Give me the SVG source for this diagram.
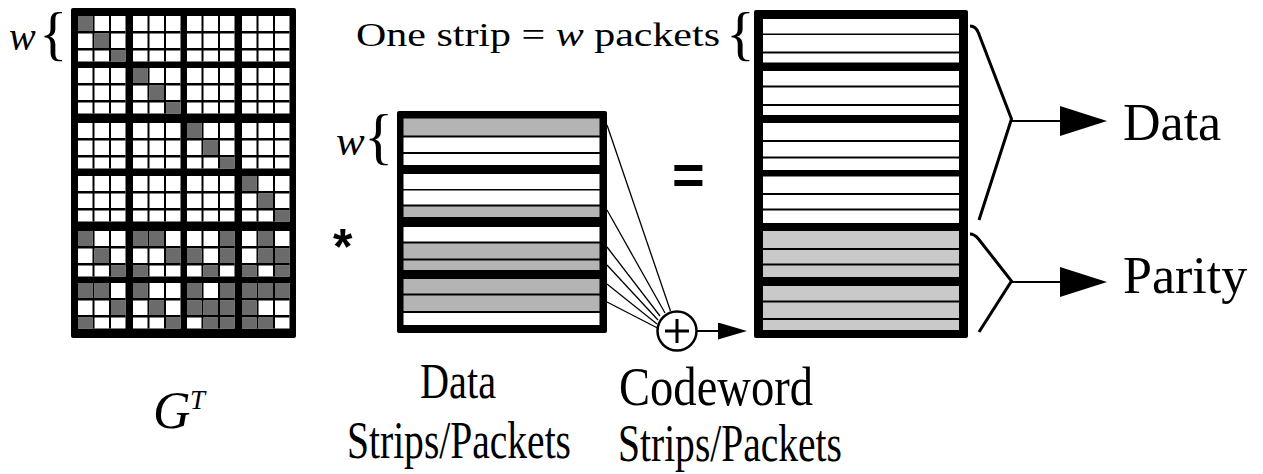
<svg xmlns="http://www.w3.org/2000/svg" xmlns:xlink="http://www.w3.org/1999/xlink" width="1263" height="474" viewBox="0 0 1263 474">
  <style>
    .serif { font-family: "Liberation Serif", "Times New Roman", serif; fill: #000; }
    .sans { font-family: "Liberation Sans", Arial, sans-serif; fill: #000; }
    .it { font-style: italic; }
    .cell { fill: #6b6b6b; }
    .w { fill: #fff; }
    .dg { fill: #b4b4b4; }
    .pg { fill: #c9c9c9; }
    .fan { stroke: #000; stroke-width: 1.3; fill: none; }
    .brace { stroke: #000; stroke-width: 3; fill: none; stroke-linejoin: miter; }
    .shaft { stroke: #000; stroke-width: 2; fill: none; }
  </style>
  <defs>
    <!-- one w x w sub-block of the generator matrix: white cells on a black grid -->
    <g id="blk">
      <rect width="47.5" height="45.5" fill="#fff"/>
      <rect x="14.5" width="2" height="45.5"/>
      <rect x="31" width="2" height="45.5"/>
      <rect y="15" width="47.5" height="2.5"/>
      <rect y="32" width="47.5" height="2.5"/>
    </g>
    <marker id="headLg" viewBox="0 0 47 30" refX="1" refY="15" markerWidth="47" markerHeight="30" markerUnits="userSpaceOnUse" orient="auto">
      <path d="M0,0 L47,15 L0,30 Z" fill="#000"/>
    </marker>
    <marker id="headSm" viewBox="0 0 29 17" refX="1" refY="8.5" markerWidth="29" markerHeight="17" markerUnits="userSpaceOnUse" orient="auto">
      <path d="M0,0 L29,8.5 L0,17 Z" fill="#000"/>
    </marker>
  </defs>

  <rect width="1263" height="474" fill="#fff"/>

  <!-- generator matrix G^T: 6 x 4 blocks of 3 x 3 bits -->
  <g id="gt-matrix">
    <rect x="71" y="8" width="225" height="330" rx="2" fill="#000"/>
    <use xlink:href="#blk" x="78" y="16"/><use xlink:href="#blk" x="133" y="16"/><use xlink:href="#blk" x="187" y="16"/><use xlink:href="#blk" x="242" y="16"/>
    <use xlink:href="#blk" x="78" y="68"/><use xlink:href="#blk" x="133" y="68"/><use xlink:href="#blk" x="187" y="68"/><use xlink:href="#blk" x="242" y="68"/>
    <use xlink:href="#blk" x="78" y="123"/><use xlink:href="#blk" x="133" y="123"/><use xlink:href="#blk" x="187" y="123"/><use xlink:href="#blk" x="242" y="123"/>
    <use xlink:href="#blk" x="78" y="176"/><use xlink:href="#blk" x="133" y="176"/><use xlink:href="#blk" x="187" y="176"/><use xlink:href="#blk" x="242" y="176"/>
    <use xlink:href="#blk" x="78" y="231"/><use xlink:href="#blk" x="133" y="231"/><use xlink:href="#blk" x="187" y="231"/><use xlink:href="#blk" x="242" y="231"/>
    <use xlink:href="#blk" x="78" y="283"/><use xlink:href="#blk" x="133" y="283"/><use xlink:href="#blk" x="187" y="283"/><use xlink:href="#blk" x="242" y="283"/>
    <!-- identity part -->
    <rect class="cell" x="78" y="16" width="14.5" height="15"/><rect class="cell" x="94.5" y="33.5" width="14.5" height="14.5"/><rect class="cell" x="111" y="50.5" width="14.5" height="11"/>
    <rect class="cell" x="133" y="68" width="14.5" height="15"/><rect class="cell" x="149.5" y="85.5" width="14.5" height="14.5"/><rect class="cell" x="166" y="102.5" width="14.5" height="11"/>
    <rect class="cell" x="187" y="123" width="14.5" height="15"/><rect class="cell" x="203.5" y="140.5" width="14.5" height="14.5"/><rect class="cell" x="220" y="157.5" width="14.5" height="11"/>
    <rect class="cell" x="242" y="176" width="14.5" height="15"/><rect class="cell" x="258.5" y="193.5" width="14.5" height="14.5"/><rect class="cell" x="275" y="210.5" width="14.5" height="11"/>
    <!-- coding part, first parity block row -->
    <rect class="cell" x="78" y="231" width="14.5" height="15"/><rect class="cell" x="94.5" y="248.5" width="14.5" height="14.5"/><rect class="cell" x="111" y="265.5" width="14.5" height="11"/>
    <rect class="cell" x="133" y="231" width="14.5" height="15"/><rect class="cell" x="149.5" y="231" width="14.5" height="15"/><rect class="cell" x="166" y="248.5" width="14.5" height="14.5"/><rect class="cell" x="133" y="265.5" width="14.5" height="11"/>
    <rect class="cell" x="220" y="231" width="14.5" height="15"/><rect class="cell" x="187" y="248.5" width="14.5" height="14.5"/><rect class="cell" x="220" y="248.5" width="14.5" height="14.5"/><rect class="cell" x="203.5" y="265.5" width="14.5" height="11"/>
    <rect class="cell" x="258.5" y="231" width="14.5" height="15"/><rect class="cell" x="258.5" y="248.5" width="14.5" height="14.5"/><rect class="cell" x="275" y="248.5" width="14.5" height="14.5"/><rect class="cell" x="242" y="265.5" width="14.5" height="11"/><rect class="cell" x="275" y="265.5" width="14.5" height="11"/>
    <!-- coding part, second parity block row -->
    <rect class="cell" x="78" y="283" width="14.5" height="15"/><rect class="cell" x="94.5" y="283" width="14.5" height="15"/><rect class="cell" x="111" y="300.5" width="14.5" height="14.5"/><rect class="cell" x="78" y="317.5" width="14.5" height="11"/>
    <rect class="cell" x="133" y="283" width="14.5" height="15"/><rect class="cell" x="149.5" y="300.5" width="14.5" height="14.5"/><rect class="cell" x="166" y="317.5" width="14.5" height="11"/>
    <rect class="cell" x="187" y="283" width="14.5" height="15"/><rect class="cell" x="220" y="283" width="14.5" height="15"/><rect class="cell" x="187" y="300.5" width="14.5" height="14.5"/><rect class="cell" x="203.5" y="300.5" width="14.5" height="14.5"/><rect class="cell" x="220" y="300.5" width="14.5" height="14.5"/><rect class="cell" x="203.5" y="317.5" width="14.5" height="11"/><rect class="cell" x="220" y="317.5" width="14.5" height="11"/>
    <rect class="cell" x="242" y="283" width="14.5" height="15"/><rect class="cell" x="258.5" y="283" width="14.5" height="15"/><rect class="cell" x="275" y="283" width="14.5" height="15"/><rect class="cell" x="242" y="300.5" width="14.5" height="14.5"/><rect class="cell" x="242" y="317.5" width="14.5" height="11"/><rect class="cell" x="258.5" y="317.5" width="14.5" height="11"/>
  </g>

  <g id="gt-label">
    <text class="serif it" x="9" y="50" font-size="40">w</text>
    <text class="serif" x="39" y="53" font-size="59">{</text>
    <text class="serif it" x="153" y="428" font-size="52">G</text>
    <text class="serif it" x="190" y="409" font-size="27">T</text>
  </g>

  <text id="times" class="sans" x="333" y="264" font-size="50" font-weight="bold">*</text>

  <!-- data strips: 4 strips of w = 3 packets -->
  <g id="data-strips">
    <rect x="397" y="111" width="210" height="222" rx="2" fill="#000"/>
    <rect class="dg" x="403.5" y="118.5" width="196" height="17"/>
    <rect class="w" x="403.5" y="137.5" width="196" height="14.5"/>
    <rect class="w" x="403.5" y="154" width="196" height="11"/>
    <rect class="w" x="403.5" y="174" width="196" height="15"/>
    <rect class="w" x="403.5" y="190.5" width="196" height="14"/>
    <rect class="dg" x="403.5" y="206.5" width="196" height="10.5"/>
    <rect class="w" x="403.5" y="227" width="196" height="14.5"/>
    <rect class="dg" x="403.5" y="243.5" width="196" height="15"/>
    <rect class="dg" x="403.5" y="260.5" width="196" height="9.5"/>
    <rect class="dg" x="403.5" y="279" width="196" height="14.5"/>
    <rect class="dg" x="403.5" y="295.5" width="196" height="15.5"/>
    <rect class="w" x="403.5" y="313" width="196" height="12"/>
  </g>
  <g id="data-label">
    <text class="serif it" x="336" y="155" font-size="43">w</text>
    <text class="serif" x="364" y="157" font-size="61">{</text>
    <text class="serif" x="420" y="398" font-size="50" textLength="76" lengthAdjust="spacingAndGlyphs">Data</text>
    <text class="serif" x="347" y="458" font-size="53" textLength="224" lengthAdjust="spacingAndGlyphs">Strips/Packets</text>
  </g>

  <text id="equals" class="sans" x="672" y="194" font-size="56" font-weight="bold">=</text>

  <!-- XOR adder -->
  <g id="xor">
    <circle cx="677" cy="331" r="19.5" fill="#fff" stroke="#000" stroke-width="2.5"/>
    <path d="M665,331 H689 M677,319 V343" stroke="#000" stroke-width="3"/>
  </g>

  <!-- codeword: 4 data strips + 2 parity strips -->
  <g id="codeword">
    <rect x="754" y="10" width="214" height="328" rx="2" fill="#000"/>
    <rect class="w" x="763" y="19" width="196" height="14.5"/>
    <rect class="w" x="763" y="35" width="196" height="16.5"/>
    <rect class="w" x="763" y="53.5" width="196" height="9"/>
    <rect class="w" x="763" y="71" width="196" height="14.5"/>
    <rect class="w" x="763" y="87.5" width="196" height="16.5"/>
    <rect class="w" x="763" y="106" width="196" height="9"/>
    <rect class="w" x="763" y="123" width="196" height="17"/>
    <rect class="w" x="763" y="142" width="196" height="14.5"/>
    <rect class="w" x="763" y="158.5" width="196" height="11.5"/>
    <rect class="w" x="763" y="176.5" width="196" height="16.5"/>
    <rect class="w" x="763" y="195" width="196" height="13.5"/>
    <rect class="w" x="763" y="210.5" width="196" height="12.5"/>
    <rect class="pg" x="763" y="231" width="196" height="17"/>
    <rect class="pg" x="763" y="250" width="196" height="13.5"/>
    <rect class="pg" x="763" y="265.5" width="196" height="11.5"/>
    <rect class="pg" x="763" y="286" width="196" height="14.5"/>
    <rect class="pg" x="763" y="302.5" width="196" height="15.5"/>
    <rect class="pg" x="763" y="320" width="196" height="10"/>
  </g>
  <g id="codeword-label">
    <text class="serif" x="356" y="46" font-size="34" textLength="364" lengthAdjust="spacingAndGlyphs">One strip = <tspan class="it">w</tspan> packets</text>
    <text class="serif" x="726" y="53" font-size="60">{</text>
    <text class="serif" x="619" y="405" font-size="54" textLength="194" lengthAdjust="spacingAndGlyphs">Codeword</text>
    <text class="serif" x="618" y="461" font-size="52" textLength="224" lengthAdjust="spacingAndGlyphs">Strips/Packets</text>
  </g>

  <g id="outputs">
    <text class="serif" x="1123" y="140" font-size="52">Data</text>
    <text class="serif" x="1123" y="293" font-size="52">Parity</text>
  </g>

  <!-- connectors: fan-in to the adder, adder output, and output braces -->
  <g id="connectors">
    <path class="fan" d="M607,125 L670.5,311"/>
    <path class="fan" d="M607,210 L665,313"/>
    <path class="fan" d="M607,247 L660,316"/>
    <path class="fan" d="M607,265 L658,320"/>
    <path class="fan" d="M607,284 L657,324"/>
    <path class="fan" d="M607,302 L657.5,328"/>
    <path class="shaft" d="M696.5,331 H719" marker-end="url(#headSm)"/>
    <path class="brace" d="M970,26 C975,26 977,29 978.5,33 L1011.5,119 L979,220"/>
    <path class="shaft" d="M1011,121 H1061" marker-end="url(#headLg)"/>
    <path class="brace" d="M970,234 C974,234 976,236 978.5,239 L1011.5,281 L979,332"/>
    <path class="shaft" d="M1011,282 H1061" marker-end="url(#headLg)"/>
  </g>
</svg>
